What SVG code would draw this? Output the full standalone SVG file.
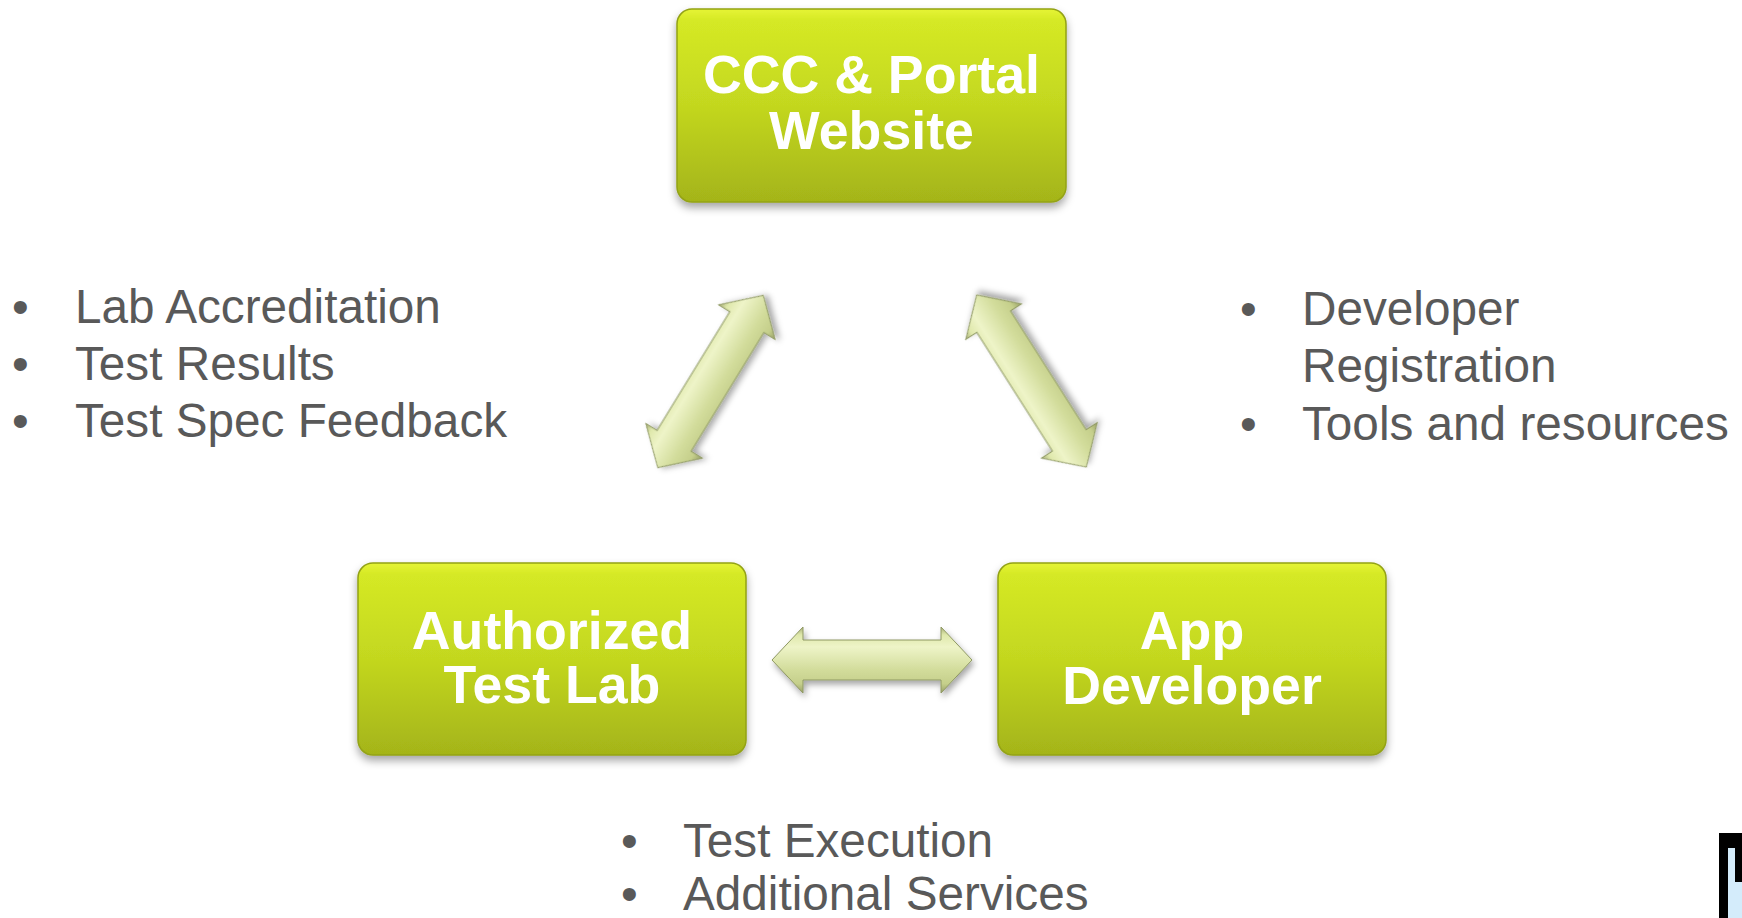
<svg xmlns="http://www.w3.org/2000/svg" width="1742" height="918" viewBox="0 0 1742 918">
  <defs>
    <linearGradient id="boxFill" x1="0" y1="0" x2="0" y2="1">
      <stop offset="0" stop-color="#e6f435"/>
      <stop offset="0.06" stop-color="#d5e925"/>
      <stop offset="0.5" stop-color="#c3d71f"/>
      <stop offset="1" stop-color="#a4b419"/>
    </linearGradient>
    <linearGradient id="arrowFill" x1="0" y1="0" x2="0" y2="1">
      <stop offset="0" stop-color="#a9b079"/>
      <stop offset="0.12" stop-color="#dfe8ab"/>
      <stop offset="0.3" stop-color="#eef4c8"/>
      <stop offset="0.65" stop-color="#d2dc9b"/>
      <stop offset="0.86" stop-color="#c5cf8b"/>
      <stop offset="1" stop-color="#99a168"/>
    </linearGradient>
    <filter id="boxShadow" x="-10%" y="-10%" width="120%" height="130%">
      <feDropShadow dx="0" dy="5" stdDeviation="4" flood-color="#000" flood-opacity="0.35"/>
    </filter>
    <filter id="arrowShadow" x="-20%" y="-40%" width="140%" height="180%">
      <feDropShadow dx="2" dy="4" stdDeviation="3" flood-color="#000" flood-opacity="0.35"/>
    </filter>
    <path id="dblArrow" d="M-100,0 L-69,-33 L-69,-20 L69,-20 L69,-33 L100,0 L69,33 L69,20 L-69,20 L-69,33 Z"/>
  </defs>
  <style>
    .box { fill: url(#boxFill); stroke: #93a216; stroke-width: 1.5; filter: url(#boxShadow); }
    .boxText { font-family: "Liberation Sans", Arial, sans-serif; font-weight: bold; font-size: 53.7px; fill: #ffffff; text-anchor: middle; }
    .bullet { font-family: "Liberation Sans", Arial, sans-serif; font-size: 47.7px; fill: #595959; }
    .arrow { fill: url(#arrowFill); stroke: #8e9862; stroke-width: 1; filter: url(#arrowShadow); }
  </style>

  <g id="connectors">
    <use href="#dblArrow" class="arrow" transform="translate(710.5,381.5) rotate(-58.5) scale(1.01,1)"/>
    <use href="#dblArrow" class="arrow" transform="translate(1031.5,381) rotate(237.5) scale(1.02,1)"/>
    <use href="#dblArrow" class="arrow" transform="translate(872,660)"/>
  </g>

  <g id="node-ccc">
    <rect class="box" x="677" y="9" width="389" height="193" rx="15" ry="15"/>
    <text class="boxText" x="871.5" y="93">CCC &amp; Portal</text>
    <text class="boxText" x="871.5" y="149">Website</text>
  </g>

  <g id="node-lab">
    <rect class="box" x="358" y="563" width="388" height="192" rx="15" ry="15"/>
    <text class="boxText" x="552" y="649">Authorized</text>
    <text class="boxText" x="552" y="703">Test Lab</text>
  </g>

  <g id="node-dev">
    <rect class="box" x="998" y="563" width="388" height="192" rx="15" ry="15"/>
    <text class="boxText" x="1192" y="649">App</text>
    <text class="boxText" x="1192" y="704">Developer</text>
  </g>

  <g id="notes-left">
    <text class="bullet" x="12" y="323">•</text>
    <text class="bullet" x="75" y="323">Lab Accreditation</text>
    <text class="bullet" x="12" y="380">•</text>
    <text class="bullet" x="75" y="380">Test Results</text>
    <text class="bullet" x="12" y="437">•</text>
    <text class="bullet" x="75" y="437">Test Spec Feedback</text>
  </g>

  <g id="notes-right">
    <text class="bullet" x="1240" y="325">•</text>
    <text class="bullet" x="1302" y="325">Developer</text>
    <text class="bullet" x="1302" y="382">Registration</text>
    <text class="bullet" x="1240" y="440">•</text>
    <text class="bullet" x="1302" y="440">Tools and resources</text>
  </g>

  <g id="notes-bottom">
    <text class="bullet" x="621" y="857">•</text>
    <text class="bullet" x="683" y="857">Test Execution</text>
    <text class="bullet" x="621" y="910">•</text>
    <text class="bullet" x="683" y="910">Additional Services</text>
  </g>

  <g id="corner-fragment">
    <rect x="1719" y="833" width="23" height="85" fill="#000000"/>
    <rect x="1728" y="848" width="14" height="70" fill="#d4ecfb"/>
    <rect x="1735" y="848" width="7" height="34" fill="#000000"/>
  </g>
</svg>
